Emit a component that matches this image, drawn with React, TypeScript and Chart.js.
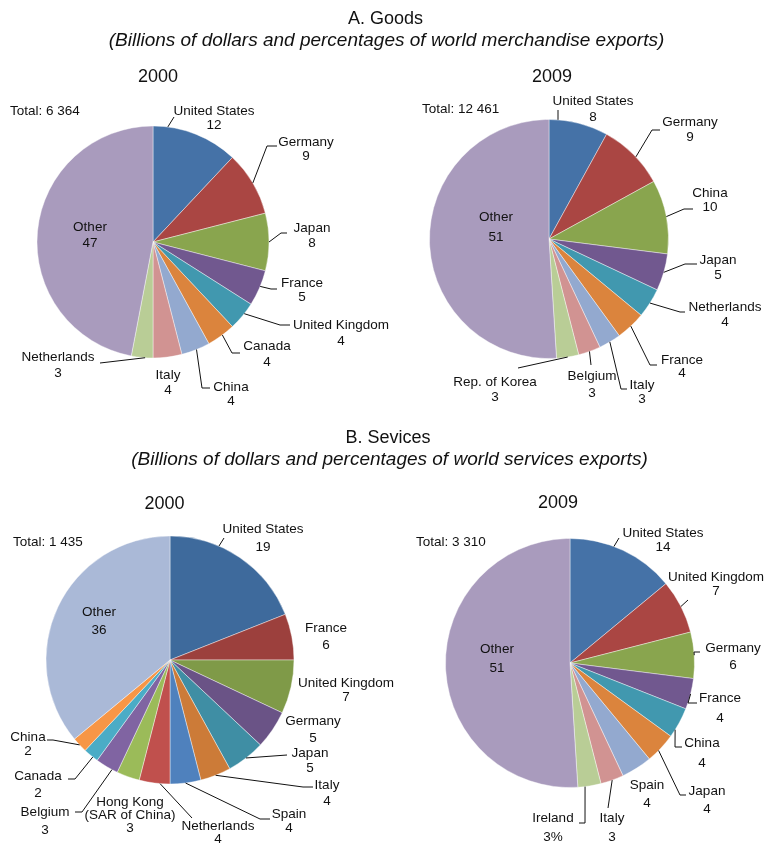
import React, { useEffect, useRef } from "react";
import { Chart, registerables } from "chart.js";

Chart.register(...registerables);

const PAGE_W = 764;
const PAGE_H = 843;
const FONT_FAMILY = '"Liberation Sans", Arial, Helvetica, sans-serif';

// ---- A. Goods, 2000 (share of world merchandise exports, %) ----
const goods2000Categories = ["United States", "Germany", "Japan", "France", "United Kingdom", "Canada", "China", "Italy", "Netherlands", "Other"];
const goods2000Shares = [12, 9, 8, 5, 4, 4, 4, 4, 3, 47];
const goods2000Total = "Total: 6 364";

// ---- A. Goods, 2009 ----
const goods2009Categories = ["United States", "Germany", "China", "Japan", "Netherlands", "France", "Italy", "Belgium", "Rep. of Korea", "Other"];
const goods2009Shares = [8, 9, 10, 5, 4, 4, 3, 3, 3, 51];
const goods2009Total = "Total: 12 461";

// ---- B. Services, 2000 (share of world services exports, %) ----
const services2000Categories = ["United States", "France", "United Kingdom", "Germany", "Japan", "Italy", "Spain", "Netherlands", "Hong Kong\n(SAR of China)", "Belgium", "Canada", "China", "Other"];
const services2000Shares = [19, 6, 7, 5, 5, 4, 4, 4, 3, 3, 2, 2, 36];
const services2000Total = "Total: 1 435";

// ---- B. Services, 2009 ----
const services2009Categories = ["United States", "United Kingdom", "Germany", "France", "China", "Japan", "Spain", "Italy", "Ireland", "Other"];
const services2009Shares = [14, 7, 6, 4, 4, 4, 4, 3, 3, 51];
const services2009Total = "Total: 3 310";
const services2009ValueText = services2009Shares.map((v, i) =>
  services2009Categories[i] === "Ireland" ? `${v}%` : `${v}`
);

// ---- slice colours ----
const softPalette = ["#4572A7", "#AA4643", "#89A54E", "#71588F", "#4198AF", "#DB843D", "#93A9CF", "#D19392", "#B9CD96", "#A99BBD"];
const services2000Palette = ["#3E6A9C", "#9C403D", "#7F9A48", "#6A5386", "#3F8EA4", "#CC7B38", "#4F81BD", "#C0504D", "#9BBB59", "#8064A2", "#4BACC6", "#F79646", "#AAB9D7"];

// ---- label layout (offsets from pie centre; leader end, elbow shift, anchor within slice) ----
type LabelSpot = { x: number; y: number; gap: number; ex?: number; ey?: number; hx?: number; at?: number };

const goods2000Spots: LabelSpot[] = [
  { x: 61, y: -131, gap: 14, ex: 21, ey: -125, hx: 0, at: 0.17 },
  { x: 153, y: -100, gap: 14, ex: 124, ey: -96, hx: -10, at: 0.5 },
  { x: 159, y: -14, gap: 15, ex: 134, ey: -9, hx: -6, at: 0.5 },
  { x: 149, y: 41, gap: 14, ex: 124, ey: 47, hx: -6, at: 0.45 },
  { x: 188, y: 83, gap: 16, ex: 137, ey: 83, hx: -10, at: 0.4 },
  { x: 114, y: 104, gap: 16, ex: 87, ey: 111, hx: -8, at: 0.45 },
  { x: 78, y: 145, gap: 14, ex: 57, ey: 146, hx: -8, at: 0.47 },
  { x: 15, y: 133, gap: 15 },
  { x: -95, y: 115, gap: 16, ex: -53, ey: 121, hx: 0, at: 0.36 },
  { x: -63, y: -15, gap: 16 },
];

const goods2009Spots: LabelSpot[] = [
  { x: 44, y: -138, gap: 16, ex: 9, ey: -129, hx: 0, at: 0.15 },
  { x: 141, y: -117, gap: 15, ex: 111, ey: -109, hx: -8, at: 0.55 },
  { x: 161, y: -46, gap: 14, ex: 144, ey: -30, hx: -9, at: 0.5 },
  { x: 169, y: 21, gap: 15, ex: 148, ey: 25, hx: -12, at: 0.5 },
  { x: 176, y: 68, gap: 15, ex: 136, ey: 73, hx: -5, at: 0.5 },
  { x: 133, y: 121, gap: 13, ex: 108, ey: 126, hx: -7, at: 0.5 },
  { x: 93, y: 146, gap: 14, ex: 78, ey: 150, hx: -6, at: 0.5 },
  { x: 43, y: 137, gap: 17, ex: 42, ey: 126, hx: 0, at: 0.5 },
  { x: -54, y: 143, gap: 15, ex: -31, ey: 129, hx: 0, at: 0.5 },
  { x: -53, y: -22, gap: 20 },
];

const services2000Spots: LabelSpot[] = [
  { x: 93, y: -131, gap: 18, ex: 54, ey: -122, hx: 0, at: 0.34 },
  { x: 156, y: -32, gap: 17 },
  { x: 176, y: 23, gap: 14 },
  { x: 143, y: 61, gap: 17 },
  { x: 140, y: 93, gap: 15, ex: 117, ey: 95, hx: 0, at: 0.5 },
  { x: 157, y: 125, gap: 16, ex: 143, ey: 127, hx: -10, at: 0.5 },
  { x: 119, y: 154, gap: 14, ex: 100, ey: 159, hx: -10, at: 0.5 },
  { x: 48, y: 166, gap: 13, ex: 22, ey: 158, hx: 0, at: 0.32 },
  { x: -40, y: 142, gap: 13 },
  { x: -125, y: 152, gap: 18, ex: -95, ey: 152, hx: 7, at: 0.25 },
  { x: -132, y: 116, gap: 17, ex: -102, ey: 119, hx: 7, at: 0.35 },
  { x: -142, y: 77, gap: 14, ex: -123, ey: 80, hx: 6, at: 0.5 },
  { x: -71, y: -48, gap: 18 },
];

const services2009Spots: LabelSpot[] = [
  { x: 93, y: -130, gap: 14, ex: 49, ey: -125, hx: 0, at: 0.41 },
  { x: 146, y: -86, gap: 14, ex: 118, ey: -63, hx: 0, at: 0.5 },
  { x: 163, y: -15, gap: 17, ex: 130, ey: -11, hx: -6, at: 0.5 },
  { x: 150, y: 35, gap: 20, ex: 127, ey: 40, hx: -9, at: 0.5 },
  { x: 132, y: 80, gap: 20, ex: 112, ey: 84, hx: -7, at: 0.75 },
  { x: 137, y: 128, gap: 18, ex: 116, ey: 132, hx: -6, at: 0.6 },
  { x: 77, y: 122, gap: 18 },
  { x: 42, y: 155, gap: 19, ex: 38, ey: 145, hx: 0, at: 0.5 },
  { x: -17, y: 155, gap: 19, ex: 9, ey: 160, hx: 6, at: 0.69 },
  { x: -73, y: -14, gap: 19 },
];

type Heading = { text: string; x: number; y: number; font: string };

type PieSpec = {
  cx: number;
  cy: number;
  r: number;
  categories: string[];
  shares: number[];
  valueText: string[];
  colors: string[];
  spots: LabelSpot[];
  total: string;
  totalAt: [number, number];
  headings: Heading[];
};

const titleFont = `18px ${FONT_FAMILY}`;
const subtitleFont = `italic 19px ${FONT_FAMILY}`;
const labelFont = `13.5px ${FONT_FAMILY}`;

const pies: PieSpec[] = [
  {
    cx: 153, cy: 242, r: 116,
    categories: goods2000Categories, shares: goods2000Shares,
    valueText: goods2000Shares.map(String), colors: softPalette,
    spots: goods2000Spots, total: goods2000Total, totalAt: [-143, -131],
    headings: [
      { text: "A. Goods", x: 385.5, y: 24, font: titleFont },
      { text: "(Billions of dollars and percentages of world merchandise exports)", x: 386.5, y: 46, font: subtitleFont },
      { text: "2000", x: 158, y: 82, font: titleFont },
    ],
  },
  {
    cx: 549, cy: 239, r: 119.5,
    categories: goods2009Categories, shares: goods2009Shares,
    valueText: goods2009Shares.map(String), colors: softPalette,
    spots: goods2009Spots, total: goods2009Total, totalAt: [-127, -130],
    headings: [{ text: "2009", x: 552, y: 82, font: titleFont }],
  },
  {
    cx: 170, cy: 660, r: 124,
    categories: services2000Categories, shares: services2000Shares,
    valueText: services2000Shares.map(String), colors: services2000Palette,
    spots: services2000Spots, total: services2000Total, totalAt: [-157, -118],
    headings: [
      { text: "B. Sevices", x: 388, y: 443, font: titleFont },
      { text: "(Billions of dollars and percentages of world services exports)", x: 389.5, y: 465, font: subtitleFont },
      { text: "2000", x: 164.5, y: 509, font: titleFont },
    ],
  },
  {
    cx: 570, cy: 663, r: 124.5,
    categories: services2009Categories, shares: services2009Shares,
    valueText: services2009ValueText, colors: softPalette,
    spots: services2009Spots, total: services2009Total, totalAt: [-154, -121],
    headings: [{ text: "2009", x: 558, y: 508, font: titleFont }],
  },
];

// Draws headings, the total, and every slice's name/value with its leader line.
function makeLabelPlugin(spec: PieSpec) {
  return {
    id: "sliceLabels",
    afterDatasetsDraw(chart: Chart) {
      const ctx = chart.ctx;
      const meta = chart.getDatasetMeta(0);
      ctx.save();

      ctx.fillStyle = "#111";
      ctx.textBaseline = "alphabetic";
      ctx.textAlign = "center";
      for (const h of spec.headings) {
        ctx.font = h.font;
        ctx.fillText(h.text, h.x, h.y);
      }

      ctx.font = labelFont;
      ctx.textBaseline = "middle";
      let cx = spec.cx;
      let cy = spec.cy;
      meta.data.forEach((arc: any, i: number) => {
        const p = arc.getProps(["x", "y", "startAngle", "endAngle", "outerRadius"], true);
        cx = p.x;
        cy = p.y;
        const s = spec.spots[i];
        if (!s) return;

        if (s.ex !== undefined && s.ey !== undefined) {
          const a = p.startAngle + (s.at ?? 0.5) * (p.endAngle - p.startAngle);
          const rx = p.x + p.outerRadius * Math.cos(a);
          const ry = p.y + p.outerRadius * Math.sin(a);
          const endX = p.x + s.ex;
          const endY = p.y + s.ey;
          ctx.beginPath();
          ctx.strokeStyle = "#111";
          ctx.lineWidth = 1;
          ctx.moveTo(rx, ry);
          if (s.hx) ctx.lineTo(endX + s.hx, endY);
          ctx.lineTo(endX, endY);
          ctx.stroke();
        }

        const lines = [...spec.categories[i].split("\n"), spec.valueText[i]];
        ctx.textAlign = "center";
        lines.forEach((ln, k) => {
          ctx.fillText(ln, p.x + s.x, p.y + s.y + k * s.gap);
        });
      });

      ctx.textAlign = "left";
      ctx.fillText(spec.total, cx + spec.totalAt[0], cy + spec.totalAt[1]);
      ctx.restore();
    },
  };
}

function PieCanvas({ spec }: { spec: PieSpec }) {
  const ref = useRef<HTMLCanvasElement | null>(null);

  useEffect(() => {
    if (!ref.current) return;
    const chart = new Chart(ref.current, {
      type: "pie",
      data: {
        labels: spec.categories,
        datasets: [
          {
            data: spec.shares,
            backgroundColor: spec.colors,
            borderColor: "rgba(255,255,255,0.55)",
            borderWidth: 0.75,
            hoverOffset: 0,
          },
        ],
      },
      options: {
        responsive: false,
        animation: false,
        events: [],
        radius: spec.r,
        layout: {
          padding: {
            left: spec.cx - spec.r,
            top: spec.cy - spec.r,
            right: PAGE_W - spec.cx - spec.r,
            bottom: PAGE_H - spec.cy - spec.r,
          },
        },
        plugins: {
          legend: { display: false },
          tooltip: { enabled: false },
          title: { display: false },
        },
      } as any,
      plugins: [makeLabelPlugin(spec)],
    });
    return () => chart.destroy();
  }, [spec]);

  return (
    <canvas
      ref={ref}
      width={PAGE_W}
      height={PAGE_H}
      style={{ position: "absolute", left: 0, top: 0, width: PAGE_W, height: PAGE_H }}
    />
  );
}

export default function App() {
  return (
    <div
      style={{
        position: "absolute",
        left: 0,
        top: 0,
        width: PAGE_W,
        height: PAGE_H,
        background: "#fff",
        overflow: "hidden",
      }}
    >
      {pies.map((spec, i) => (
        <PieCanvas key={i} spec={spec} />
      ))}
    </div>
  );
}
